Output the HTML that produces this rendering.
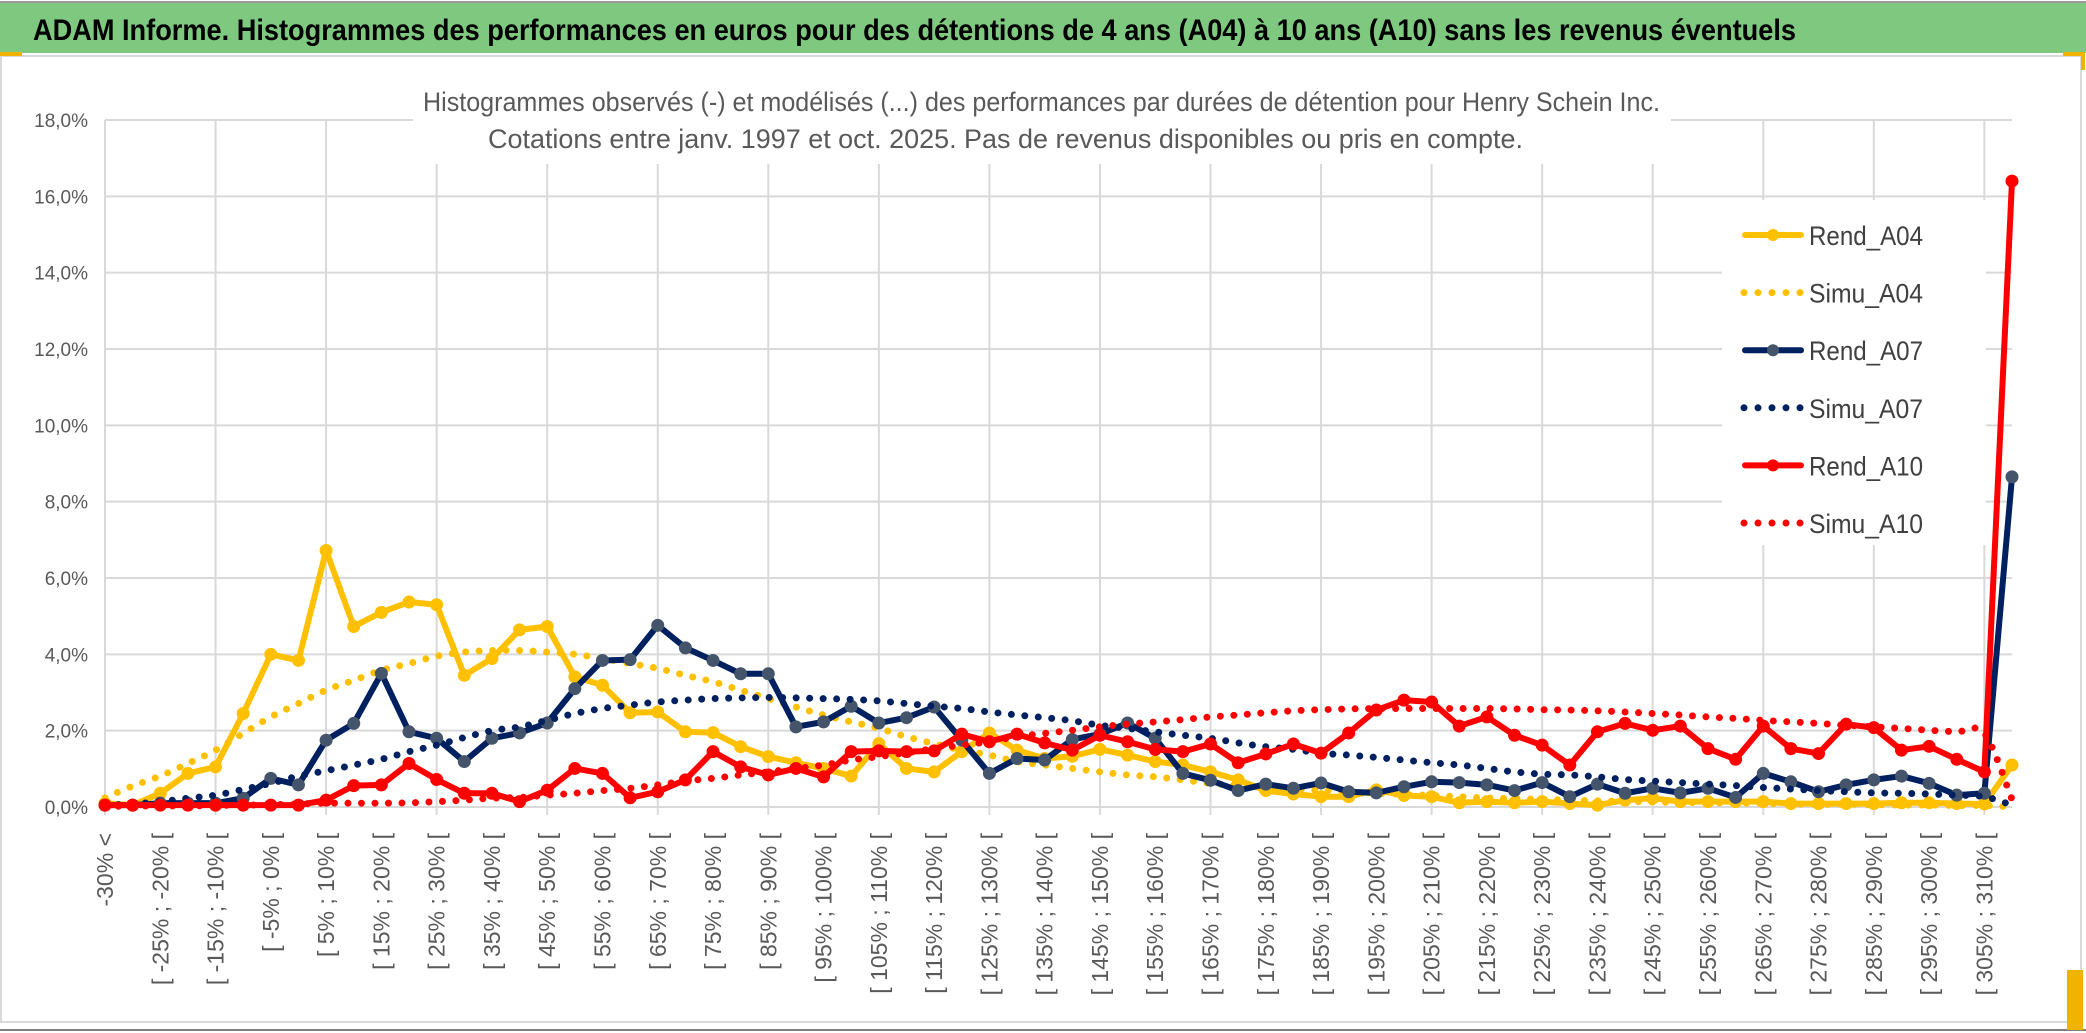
<!DOCTYPE html>
<html><head><meta charset="utf-8">
<style>
html,body{margin:0;padding:0;background:#fff;}
svg{display:block;}
text{font-family:"Liberation Sans",sans-serif;}
</style></head>
<body>
<svg id="chart" width="2086" height="1033" viewBox="0 0 2086 1033" xmlns="http://www.w3.org/2000/svg">
  <rect x="0" y="0" width="2086" height="1033" fill="#ffffff"/>
  <rect x="0" y="3" width="2086" height="50" fill="#7ec97f"/>
  <line x1="0" y1="2" x2="2086" y2="2" stroke="#9a9a9a" stroke-width="2"/>
  <text x="33" y="40" font-size="30" font-weight="bold" fill="#000" textLength="1763" lengthAdjust="spacingAndGlyphs">ADAM Informe. Histogrammes des performances en euros pour des détentions de 4 ans (A04) à 10 ans (A10) sans les revenus éventuels</text>
  <rect x="1" y="56" width="2080" height="966" fill="#fff" stroke="#d9d9d9" stroke-width="2"/>
  <line x1="0" y1="1030" x2="2086" y2="1030" stroke="#7f7f7f" stroke-width="2"/>
  <rect x="0" y="52" width="22" height="4" fill="#f0b400"/>
  <rect x="2063" y="52" width="20" height="4" fill="#f0b400"/>
  <rect x="2081" y="52" width="4" height="18" fill="#f0b400"/>
  <rect x="2067" y="970" width="16" height="60" fill="#f0b400"/>
  <g id="grid"></g>
  <rect x="413" y="80" width="1258" height="84" fill="#fff"/>
  <text x="423" y="111" font-size="27" fill="#595959" textLength="1237" lengthAdjust="spacingAndGlyphs">Histogrammes observés (-) et modélisés (...) des performances par durées de détention pour Henry Schein Inc.</text>
  <text x="488" y="148" font-size="27" fill="#595959" textLength="1035" lengthAdjust="spacingAndGlyphs">Cotations entre janv. 1997 et oct. 2025. Pas de revenus disponibles ou pris en compte.</text>
  <g id="yaxis"></g>
  <g id="xaxis"></g>
  <rect x="1722" y="200" width="264" height="345" fill="#fff"/>
  <g id="series"></g>
  <g id="legend"></g>
</svg>
<script>
const yTicks = [0, 2, 4, 6, 8, 10, 12, 14, 16, 18];
const categories = [];
categories.push('-30% <');
for (let k = 1; k < 70; k++) { categories.push('[ ' + (-35 + 5 * k) + '% ; ' + (-30 + 5 * k) + '% ['); }

const rendA04 = [0.1,0.05,0.36,0.88,1.05,2.45,4.0,3.84,6.72,4.73,5.1,5.37,5.3,3.45,3.89,4.64,4.73,3.41,3.19,2.47,2.49,1.97,1.95,1.58,1.32,1.16,1.01,0.81,1.66,1.01,0.92,1.45,1.94,1.49,1.27,1.33,1.51,1.36,1.19,1.1,0.92,0.71,0.43,0.34,0.27,0.27,0.45,0.3,0.27,0.11,0.14,0.11,0.14,0.09,0.05,0.18,0.23,0.14,0.14,0.14,0.14,0.09,0.09,0.09,0.09,0.11,0.11,0.09,0.08,1.1];
const rendA07 = [0.05,0.05,0.1,0.1,0.1,0.23,0.75,0.58,1.75,2.19,3.5,1.97,1.8,1.19,1.8,1.94,2.2,3.1,3.84,3.86,4.76,4.17,3.84,3.49,3.49,2.1,2.23,2.64,2.2,2.34,2.62,1.75,0.88,1.27,1.23,1.77,1.91,2.2,1.8,0.88,0.7,0.43,0.6,0.49,0.63,0.4,0.37,0.53,0.66,0.64,0.58,0.43,0.64,0.27,0.6,0.36,0.49,0.37,0.49,0.25,0.88,0.66,0.4,0.58,0.71,0.81,0.62,0.31,0.36,8.65];
const rendA10 = [0.05,0.05,0.05,0.05,0.05,0.05,0.05,0.05,0.18,0.56,0.58,1.14,0.72,0.36,0.36,0.14,0.44,1.01,0.88,0.24,0.4,0.71,1.45,1.05,0.84,1.01,0.79,1.45,1.47,1.45,1.47,1.91,1.71,1.91,1.68,1.49,1.88,1.71,1.51,1.45,1.65,1.16,1.39,1.65,1.41,1.94,2.54,2.8,2.75,2.12,2.36,1.88,1.62,1.1,1.97,2.19,2.01,2.12,1.53,1.25,2.12,1.53,1.4,2.17,2.08,1.49,1.59,1.25,0.92,16.4];
const simuA04 = [0.24,0.55,0.81,1.14,1.49,1.93,2.36,2.71,3.06,3.32,3.58,3.76,3.95,4.06,4.1,4.1,4.06,4.0,3.89,3.76,3.63,3.45,3.28,3.06,2.84,2.62,2.41,2.23,2.06,1.84,1.66,1.49,1.36,1.19,1.1,1.01,0.92,0.84,0.79,0.71,0.62,0.57,0.52,0.48,0.44,0.4,0.36,0.33,0.3,0.27,0.24,0.22,0.2,0.18,0.16,0.15,0.13,0.12,0.11,0.1,0.09,0.08,0.07,0.07,0.06,0.05,0.05,0.04,0.04,0.0];
const simuA07 = [0.05,0.08,0.14,0.23,0.31,0.46,0.62,0.81,0.95,1.1,1.25,1.45,1.62,1.82,2.0,2.1,2.27,2.45,2.58,2.67,2.75,2.8,2.84,2.86,2.87,2.86,2.84,2.82,2.78,2.71,2.64,2.58,2.49,2.41,2.34,2.26,2.14,2.06,1.97,1.88,1.8,1.68,1.58,1.51,1.41,1.36,1.3,1.23,1.16,1.1,1.01,0.92,0.86,0.84,0.79,0.72,0.68,0.64,0.6,0.56,0.51,0.47,0.43,0.4,0.37,0.36,0.34,0.31,0.27,0.05];
const simuA10 = [0.02,0.02,0.03,0.03,0.04,0.05,0.06,0.08,0.1,0.1,0.1,0.11,0.14,0.18,0.23,0.25,0.31,0.36,0.43,0.49,0.58,0.68,0.75,0.84,0.92,1.01,1.1,1.23,1.32,1.42,1.53,1.62,1.71,1.84,1.93,2.01,2.1,2.17,2.23,2.29,2.36,2.41,2.47,2.52,2.55,2.57,2.58,2.58,2.58,2.58,2.58,2.57,2.55,2.54,2.52,2.49,2.45,2.41,2.36,2.32,2.27,2.23,2.19,2.14,2.1,2.06,2.01,1.97,1.93,0.2];

const NS = 'http://www.w3.org/2000/svg';
const X0 = 105, X1 = 2012, Y0 = 807, Y18 = 120;
const xs = k => X0 + k * (X1 - X0) / (categories.length - 1);
const ys = v => Y0 - v * (Y0 - Y18) / 18;
function mk(tag, attrs, parent) {
  const e = document.createElementNS(NS, tag);
  for (const a in attrs) e.setAttribute(a, attrs[a]);
  parent.appendChild(e);
  return e;
}
const grid = document.getElementById('grid');
yTicks.forEach(t => {
  const l = mk('line', {x1: X0, x2: X1, y1: ys(t), y2: ys(t), stroke: '#d9d9d9', 'stroke-width': 2}, grid);
  
  
});
for (let k = 0; k < categories.length; k += 4) {
  const l = mk('line', {x1: xs(k), x2: xs(k), y1: Y18, y2: Y0 + 8, stroke: '#d9d9d9', 'stroke-width': 2}, grid);
  
  
}
const yaxis = document.getElementById('yaxis');
yTicks.forEach(t => {
  const tx = mk('text', {x: 88, y: ys(t) + 7, 'font-size': 19, fill: '#595959', 'text-anchor': 'end'}, yaxis);
  tx.textContent = t.toFixed(1).replace('.', ',') + '%';
  
  
});
const xaxis = document.getElementById('xaxis');
categories.forEach((c, k) => {
  if (k % 2 !== 0) return;
  const x = xs(k) + 8, y = 833;
  const tx = mk('text', {x: x, y: y, 'font-size': 23, fill: '#595959', 'text-anchor': 'end', transform: 'rotate(-90 ' + x + ' ' + y + ')'}, xaxis);
  tx.textContent = c;
  
  
});
function smoothPath(vals) {
  const p = vals.map((v, k) => [xs(k), ys(v)]);
  let d = 'M' + p[0][0] + ',' + p[0][1];
  for (let i = 0; i < p.length - 1; i++) {
    const a = p[i - 1] || p[i], b = p[i], c = p[i + 1], e = p[i + 2] || c;
    const t = 1 / 6;
    d += ' C' + (b[0] + (c[0] - a[0]) * t) + ',' + (b[1] + (c[1] - a[1]) * t) + ' ' + (c[0] - (e[0] - b[0]) * t) + ',' + (c[1] - (e[1] - b[1]) * t) + ' ' + c[0] + ',' + c[1];
  }
  return d;
}
const series = document.getElementById('series');
function rend(vals, color, mfill, name) {
  const g = mk('g', {}, series);
  
  
  const pl = mk('polyline', {points: vals.map((v, k) => xs(k) + ',' + ys(v)).join(' '), fill: 'none', stroke: color, 'stroke-width': 6, 'stroke-linejoin': 'round'}, g);
  
  
  vals.forEach((v, k) => {
    const c = mk('circle', {cx: xs(k), cy: ys(v), r: 6, fill: mfill, stroke: mfill, 'stroke-width': 1}, g);
    
    
  });
}
function simu(vals, color, name) {
  const p = mk('path', {d: smoothPath(vals), fill: 'none', stroke: color, 'stroke-width': 7, 'stroke-linecap': 'round', 'stroke-dasharray': '0 13.5'}, series);
  
  
}
rend(rendA04, '#ffc000', '#ffc000', 'rend-a04');
simu(simuA04, '#ffc000', 'simu-a04');
rend(rendA07, '#002060', '#44546a', 'rend-a07');
simu(simuA07, '#002060', 'simu-a07');
rend(rendA10, '#ff0000', '#ff0000', 'rend-a10');
simu(simuA10, '#ff0000', 'simu-a10');

const legend = document.getElementById('legend');
const legendNames = ['Rend_A04', 'Simu_A04', 'Rend_A07', 'Simu_A07', 'Rend_A10', 'Simu_A10'];
const legendColors = ['#ffc000', '#ffc000', '#002060', '#002060', '#ff0000', '#ff0000'];
const legendMarker = ['#ffc000', null, '#44546a', null, '#ff0000', null];
legendNames.forEach((n, i) => {
  const y = 235 + i * 57.6;
  const g = mk('g', {}, legend);
  
  
  if (legendMarker[i]) {
    mk('line', {x1: 1745, x2: 1801, y1: y, y2: y, stroke: legendColors[i], 'stroke-width': 6, 'stroke-linecap': 'round'}, g);
    mk('circle', {cx: 1773, cy: y, r: 6, fill: legendMarker[i]}, g);
  } else {
    mk('line', {x1: 1744, x2: 1802, y1: y, y2: y, stroke: legendColors[i], 'stroke-width': 7, 'stroke-linecap': 'round', 'stroke-dasharray': '0 14'}, g);
  }
  const t = mk('text', {x: 1809, y: y + 10, 'font-size': 27, fill: '#404040', textLength: 114, lengthAdjust: 'spacingAndGlyphs'}, g);
  t.textContent = n;
});
</script>
</body></html>
